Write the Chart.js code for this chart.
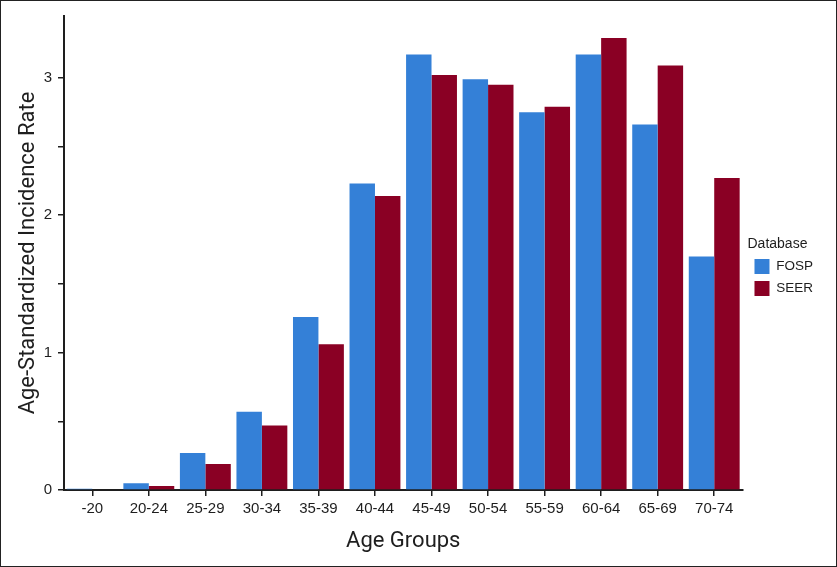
<!DOCTYPE html>
<html>
<head>
<meta charset="utf-8">
<script src="https://cdn.jsdelivr.net/npm/chart.js@4"></script>
<style>
  html, body { margin: 0; padding: 0; background: #fff; }
  #wrap { width: 835px; height: 565px; border: 1px solid #222; position: relative; }
</style>
</head>
<body>
<div id="wrap"><canvas id="chart" width="835" height="565"></canvas></div>
<script>
// Data
const ageGroups = ['-20', '20-24', '25-29', '30-34', '35-39', '40-44', '45-49', '50-54', '55-59', '60-64', '65-69', '70-74'];
const fospRates = [0.01, 0.05, 0.27, 0.57, 1.26, 2.23, 3.17, 2.99, 2.75, 3.17, 2.66, 1.70];
const seerRates = [0, 0.03, 0.19, 0.47, 1.06, 2.14, 3.02, 2.95, 2.79, 3.29, 3.09, 2.27];
const yTicks = [0, 1, 2, 3];

const blue = '#3480d7';
const red = '#8a0024';
const ink = '#1e1e1e';

// nudge the legend a little away from the plot
const legendNudge = {
  id: 'legendNudge',
  afterLayout(chart) {
    const lg = chart.legend;
    if (!lg) return;
    lg.left += 5;
    lg.right += 5;
  }
};

const ctx = document.getElementById('chart').getContext('2d');
new Chart(ctx, {
  type: 'bar',
  data: {
    labels: ageGroups,
    datasets: [
      { label: 'FOSP', data: fospRates, backgroundColor: blue },
      { label: 'SEER', data: seerRates, backgroundColor: red }
    ]
  },
  plugins: [legendNudge],
  options: {
    responsive: false,
    animation: false,
    categoryPercentage: 0.9,
    barPercentage: 1.0,
    layout: { padding: { top: 14, right: 18, bottom: 0, left: 0 } },
    plugins: {
      tooltip: { enabled: false },
      legend: {
        position: 'right',
        align: 'center',
        fullSize: false,
        title: { display: true, position: 'start', text: 'Database', color: ink, font: { family: 'Liberation Sans', size: 14 }, padding: { top: 34, bottom: -2 } },
        labels: { boxWidth: 15, boxHeight: 15, color: ink, font: { family: 'Liberation Sans', size: 13.5 }, padding: 7 }
      }
    },
    scales: {
      x: {
        afterFit: (scale) => { scale.height = 76; },
        grid: { offset: false, drawOnChartArea: false, drawTicks: true, tickLength: 6, color: ink, lineWidth: 1.5 },
        border: { display: true, color: ink, width: 2 },
        ticks: { color: ink, font: { family: 'Liberation Sans', size: 15 }, padding: 4, maxRotation: 0, autoSkip: false },
        title: { display: true, text: 'Age Groups', color: ink, font: { family: 'Roboto', size: 22 }, padding: { top: 0, bottom: 11 } }
      },
      y: {
        min: 0,
        max: 3.45,
        afterFit: (scale) => { scale.width = 63; },
        afterBuildTicks: (scale) => {
          const t = [];
          for (let v = 0; v <= 3.45; v += 0.5) t.push({ value: v });
          scale.ticks = t;
        },
        grid: { drawOnChartArea: false, drawTicks: true, tickLength: 6, color: ink, lineWidth: 1.5 },
        border: { display: true, color: ink, width: 2 },
        ticks: {
          color: ink,
          font: { family: 'Liberation Sans', size: 15 },
          padding: 6,
          callback: (v) => yTicks.includes(v) ? String(v) : ''
        },
        title: { display: true, text: 'Age-Standardized Incidence Rate', color: ink, font: { family: 'Roboto', size: 22 }, padding: { top: 14, bottom: 0 } }
      }
    }
  }
});
</script>
</body>
</html>
